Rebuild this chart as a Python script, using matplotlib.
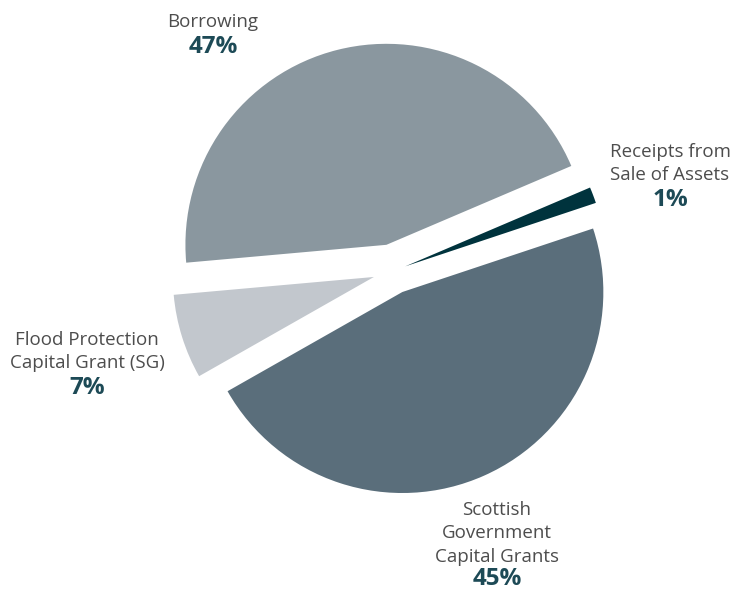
import matplotlib
matplotlib.use("Agg")
import matplotlib.pyplot as plt

# slice order as drawn (counter-clockwise from the start angle)
categories = ["Borrowing", "Flood Protection\nCapital Grant (SG)",
              "Scottish\nGovernment\nCapital Grants", "Receipts from\nSale of Assets"]
shares = [45.0, 6.8, 46.9, 1.3]          # slice sizes
pct_labels = ["47%", "7%", "45%", "1%"]  # printed percentages
colors = ["#8a979f", "#c2c7cd", "#5a6e7b", "#00333d"]
explode = [27, 20, 23, 13]               # offsets in pixels

W, H = 732, 592
fig = plt.figure(figsize=(W / 100, H / 100), dpi=100)
ax = fig.add_axes([0, 0, 1, 1])

cx, cy, r = 393, H - 271, 201
ax.pie(shares, colors=colors, explode=explode, startangle=23.1,
       counterclock=True, center=(cx, cy), radius=r,
       wedgeprops=dict(linewidth=0), frame=True)
ax.set_xlim(0, W)
ax.set_ylim(0, H)
ax.set_aspect("equal")
ax.axis("off")

font = "Open Sans"
txt_col = "#4d4d4d"
pct_col = "#1d4a56"
# label anchor positions (pixel coords, y from top): name top, percent centre
label_pos = [(213, 22, 47), (87, 340, 388), (497, 510, 579), (670, 152, 200)]
line_h = 23.3
for name, pct, (x, y0, yp) in zip(categories, pct_labels, label_pos):
    for i, line in enumerate(name.split("\n")):
        ax.text(x, H - (y0 + i * line_h), line, ha="center", va="center",
                fontsize=13.5, color=txt_col, family=font)
    ax.text(x, H - yp, pct, ha="center", va="center", fontsize=17.5,
            fontweight="bold", color=pct_col, family=font)

fig.savefig("out.png", dpi=100)
